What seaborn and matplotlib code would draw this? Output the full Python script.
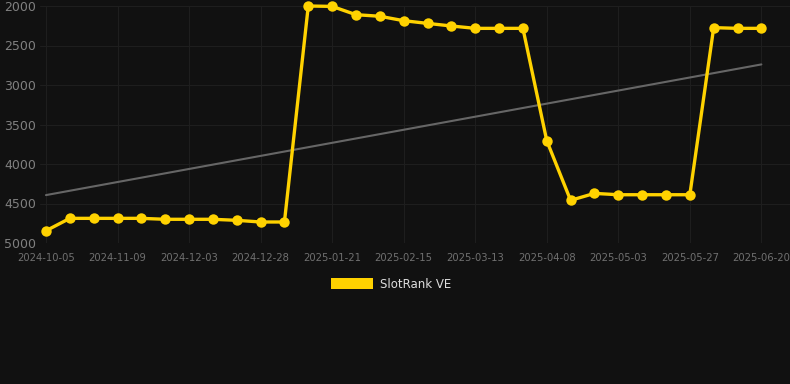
import numpy as np
import pandas as pd
import matplotlib
matplotlib.use('Agg')
import matplotlib.pyplot as plt
import seaborn as sns
from matplotlib.patches import Patch

# rank per snapshot (lower is better, axis is inverted)
ranks = [4845, 4688, 4688, 4688, 4688, 4700, 4700, 4700, 4713, 4734, 4734,
         2000, 2005, 2110, 2130, 2186, 2220, 2253, 2283, 2283, 2283,
         3705, 4460, 4372, 4389, 4389, 4389, 4389, 2274, 2283, 2283]
tick_labels = ['2024-10-05', '2024-11-09', '2024-12-03', '2024-12-28',
               '2025-01-21', '2025-02-15', '2025-03-13', '2025-04-08',
               '2025-05-03', '2025-05-27', '2025-06-20']
y_ticks = [2000, 2500, 3000, 3500, 4000, 4500, 5000]

df = pd.DataFrame({'idx': np.arange(len(ranks)), 'rank': ranks})

bg = '#111111'
sns.set_style('dark')
plt.rcParams['font.family'] = ['DejaVu Sans']

fig = plt.figure(figsize=(7.9, 3.84), dpi=100, facecolor=bg)
ax = fig.add_axes([40 / 790, 1 - 243 / 384, 750 / 790, 237 / 384])
ax.set_facecolor(bg)

# trend line
sns.regplot(x='idx', y='rank', data=df, scatter=False, ci=None, truncate=True,
            color='#666666', line_kws={'linewidth': 1.5}, ax=ax)

sns.lineplot(x='idx', y='rank', data=df, color='#FFD200', linewidth=2.4,
             marker='o', markersize=7.5, markeredgewidth=0, ax=ax, clip_on=False)

ax.set_xlim(-0.25, 31.2)
ax.set_ylim(5000, 2000)
ax.set_xticks(np.arange(0, len(ranks), 3))
ax.set_xticklabels(tick_labels)
ax.set_yticks(y_ticks)
ax.set_xlabel('')
ax.set_ylabel('')
ax.grid(True, color='#1e1e1e', linewidth=0.8)
ax.tick_params(axis='x', length=0, pad=7, labelsize=7.2, labelcolor='#707070')
ax.tick_params(axis='y', length=0, pad=3, labelsize=9, labelcolor='#808080')
for s in ax.spines.values():
    s.set_visible(False)

fig.legend(handles=[Patch(facecolor='#FFD200', edgecolor='none', label='SlotRank VE')],
           loc='center', bbox_to_anchor=(0.495, 1 - 284 / 384), frameon=False,
           handlelength=3.6, handleheight=1.0, fontsize=8.5, labelcolor='#dddddd',
           handletextpad=0.6)

fig.savefig('out.png', dpi=100, facecolor=bg)
